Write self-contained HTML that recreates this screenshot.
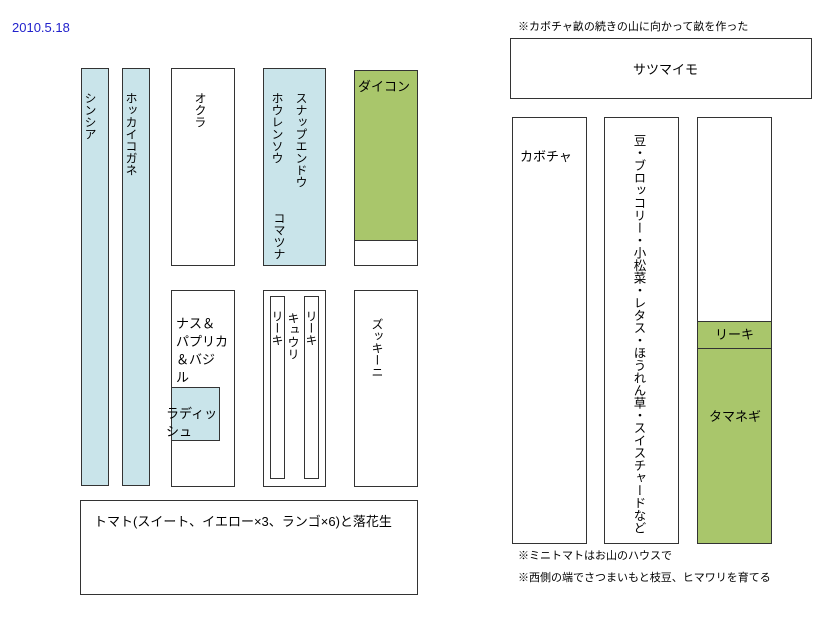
<!DOCTYPE html>
<html><head><meta charset="utf-8"><style>
html,body{margin:0;padding:0;background:#fff;}
body{width:834px;height:623px;position:relative;overflow:hidden;font-family:"Liberation Sans","Noto Sans CJK JP",sans-serif;font-size:13px;color:#000;}
.b{position:absolute;box-sizing:border-box;border:1px solid #333;background:#fff;}
.bl{background:#c9e4ea;}
.gr{background:#a9c66b;}
.t{position:absolute;white-space:nowrap;line-height:1;}
.v{position:absolute;writing-mode:vertical-rl;text-orientation:upright;line-height:1;letter-spacing:0;font-size:12px;white-space:nowrap;}
</style></head><body>
<div class="t" style="left:12px;top:21px;color:#2222cc;font-size:13px;">2010.5.18</div>

<div class="b bl" style="left:81px;top:68px;width:28px;height:418px;"></div>
<div class="v" style="left:84px;top:92px;">シンシア</div>
<div class="b bl" style="left:122px;top:68px;width:28px;height:418px;"></div>
<div class="v" style="left:125px;top:92px;">ホッカイコガネ</div>

<div class="b" style="left:171px;top:68px;width:64px;height:198px;"></div>
<div class="v" style="left:194px;top:92px;">オクラ</div>

<div class="b bl" style="left:263px;top:68px;width:63px;height:198px;"></div>
<div class="v" style="left:295px;top:92px;">スナップエンドウ</div>
<div class="v" style="left:271px;top:92px;">ホウレンソウ</div>
<div class="v" style="left:273px;top:212px;">コマツナ</div>

<div class="b" style="left:354px;top:70px;width:64px;height:196px;"></div>
<div class="b gr" style="left:354px;top:70px;width:64px;height:171px;"></div>
<div class="t" style="left:358px;top:80px;">ダイコン</div>

<div class="b" style="left:171px;top:290px;width:64px;height:197px;"></div>
<div class="t" style="left:176px;top:315px;line-height:18px;">ナス＆<br>パプリカ<br>＆バジ<br>ル</div>
<div class="b bl" style="left:171px;top:387px;width:49px;height:54px;"></div>
<div class="t" style="left:166px;top:405px;line-height:18px;">ラディッ<br>シュ</div>

<div class="b" style="left:263px;top:290px;width:63px;height:197px;"></div>
<div class="b" style="left:270px;top:296px;width:15px;height:183px;"></div>
<div class="b" style="left:304px;top:296px;width:15px;height:183px;"></div>
<div class="v" style="left:271px;top:310px;">リーキ</div>
<div class="v" style="left:287px;top:312px;">キュウリ</div>
<div class="v" style="left:305px;top:310px;">リーキ</div>

<div class="b" style="left:354px;top:290px;width:64px;height:197px;"></div>
<div class="v" style="left:371px;top:318px;">ズッキーニ</div>

<div class="b" style="left:80px;top:500px;width:338px;height:95px;"></div>
<div class="t" style="left:94px;top:515px;">トマト(スイート、イエロー×3、ランゴ×6)と落花生</div>

<div class="t" style="left:518px;top:22px;font-size:11px;">※カボチャ畝の続きの山に向かって畝を作った</div>
<div class="b" style="left:510px;top:38px;width:302px;height:61px;"></div>
<div class="t" style="left:633px;top:63px;">サツマイモ</div>

<div class="b" style="left:512px;top:117px;width:75px;height:427px;"></div>
<div class="t" style="left:520px;top:150px;">カボチャ</div>
<div class="b" style="left:604px;top:117px;width:75px;height:427px;"></div>
<div class="v" style="left:632px;top:134px;font-size:12.5px;">豆・ブロッコリー・小松菜・レタス・ほうれん草・スイスチャードなど</div>
<div class="b" style="left:697px;top:117px;width:75px;height:427px;"></div>
<div class="b gr" style="left:697px;top:321px;width:75px;height:28px;"></div>
<div class="t" style="left:715px;top:328px;">リーキ</div>
<div class="b gr" style="left:697px;top:348px;width:75px;height:196px;"></div>
<div class="t" style="left:709px;top:410px;">タマネギ</div>

<div class="t" style="left:518px;top:551px;font-size:11px;">※ミニトマトはお山のハウスで</div>
<div class="t" style="left:518px;top:573px;font-size:11px;">※西側の端でさつまいもと枝豆、ヒマワリを育てる</div>
</body></html>
